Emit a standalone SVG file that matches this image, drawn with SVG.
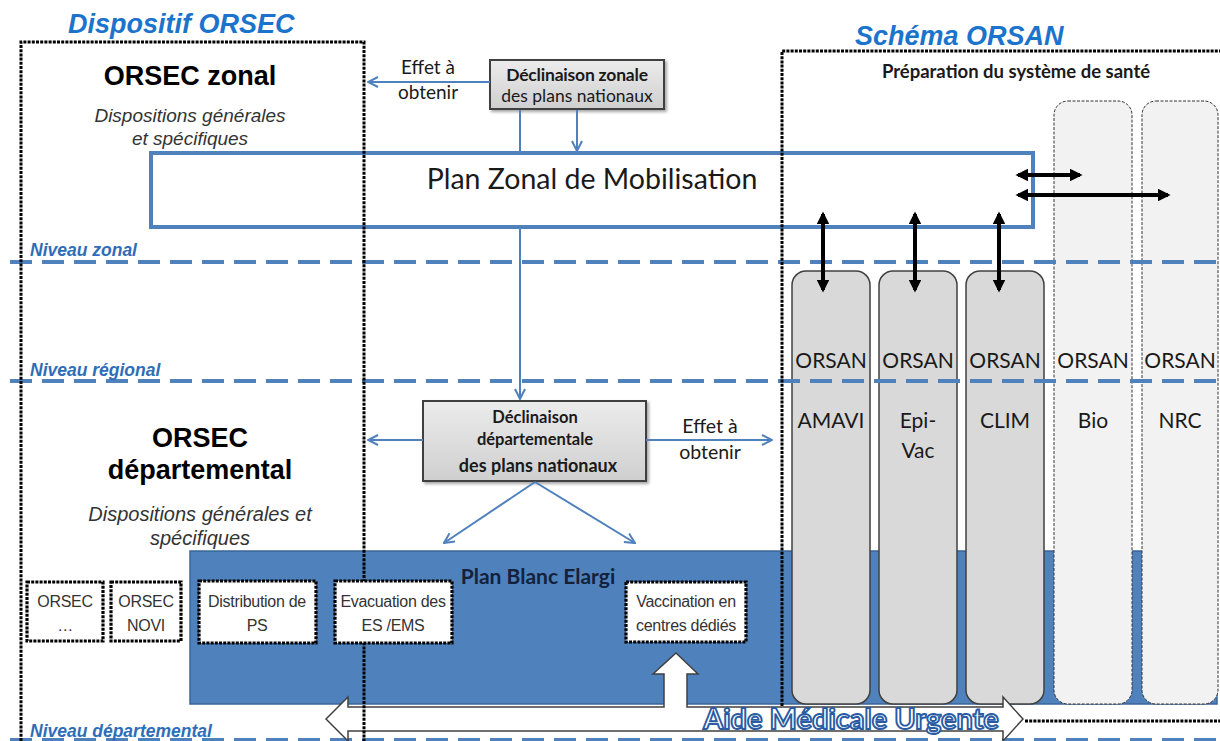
<svg xmlns="http://www.w3.org/2000/svg" width="1220" height="741" viewBox="0 0 1220 741">
<defs>
<style>
.title{font-family:"Liberation Sans",Arial,sans-serif;font-weight:bold;font-style:italic;font-size:27px;fill:#1c73cc}
.lvl{font-family:"Liberation Sans",Arial,sans-serif;font-weight:bold;font-style:italic;font-size:17.5px;fill:#2f6db8}
.h1{font-family:"Liberation Sans",Arial,sans-serif;font-weight:bold;font-size:27px;fill:#000}
.disp{font-family:"Liberation Sans",Arial,sans-serif;font-style:italic;font-size:19px;fill:#333}
.cal{font-family:Lato,"Open Sans",sans-serif;fill:#1a1a1a}
.box{font-family:Lato,"Open Sans",sans-serif;font-weight:bold;font-size:16.5px;fill:#1a1a1a}
.small{font-family:"Liberation Sans",Arial,sans-serif;font-size:16px;fill:#333;letter-spacing:-0.3px}
.dot{fill:#fff;stroke:#000;stroke-width:3.2;stroke-dasharray:3 1.2}
.bigdot{fill:none;stroke:#000;stroke-width:3;stroke-dasharray:3 1.2}
.dash{stroke:#4f81bd;stroke-width:4;stroke-dasharray:22 10;fill:none}
.conn{stroke:#4f81bd;stroke-width:2;fill:none}
.blk{stroke:#000;stroke-width:4;fill:none;marker-start:url(#bh);marker-end:url(#bh)}
.col{fill:#d9d9d9;stroke:#404040;stroke-width:1.5}
.lcol{fill:#f2f2f2;stroke:#333;stroke-width:1;stroke-dasharray:3 1.5}
.decl{fill:url(#g);stroke:#404040;stroke-width:2;filter:url(#sh)}
</style>
<marker id="oa" viewBox="0 0 12 12" refX="11" refY="6" markerWidth="12" markerHeight="12" markerUnits="userSpaceOnUse" orient="auto">
<path d="M1,1 L11,6 L1,11" fill="none" stroke="#4f81bd" stroke-width="2"/>
</marker>
<marker id="bh" viewBox="0 0 10 10" refX="8" refY="5" markerWidth="3.2" markerHeight="3.2" orient="auto-start-reverse">
<path d="M0,0 L10,5 L0,10 z" fill="#000"/>
</marker>
<linearGradient id="g" x1="0" y1="0" x2="0" y2="1">
<stop offset="0" stop-color="#ececec"/>
<stop offset="1" stop-color="#cfcfcf"/>
</linearGradient>
<filter id="sh" x="-10%" y="-10%" width="130%" height="140%">
<feDropShadow dx="2" dy="2" stdDeviation="1.5" flood-color="#000" flood-opacity="0.35"/>
</filter>
</defs>
<rect width="1220" height="741" fill="#fff"/>

<text class="title" x="68" y="33">Dispositif ORSEC</text>
<text class="title" x="855" y="45">Schéma ORSAN</text>

<g id="plan-blanc">
<rect x="190" y="551" width="1027" height="153" fill="#4f81bd" stroke="#3b6597" stroke-width="1.5"/>
<text class="cal" x="538" y="584" text-anchor="middle" style="font-size:21px;font-weight:bold;fill:#14213d">Plan Blanc Elargi</text>
</g>

<g id="orsan-amavi">
<rect class="col" x="792" y="271" width="78" height="433" rx="14"/>
<text class="cal" x="831" y="368" font-size="21" text-anchor="middle">ORSAN</text>
<text class="cal" x="831" y="428" font-size="21" text-anchor="middle">AMAVI</text>
</g>
<g id="orsan-epivac">
<rect class="col" x="879" y="271" width="78" height="433" rx="14"/>
<text class="cal" x="918" y="368" font-size="21" text-anchor="middle">ORSAN</text>
<text class="cal" x="918" y="428" font-size="21" text-anchor="middle">Epi-</text>
<text class="cal" x="918" y="458" font-size="21" text-anchor="middle">Vac</text>
</g>
<g id="orsan-clim">
<rect class="col" x="966" y="271" width="78" height="433" rx="14"/>
<text class="cal" x="1005" y="368" font-size="21" text-anchor="middle">ORSAN</text>
<text class="cal" x="1005" y="428" font-size="21" text-anchor="middle">CLIM</text>
</g>
<g id="orsan-bio">
<rect class="lcol" x="1054" y="101" width="78" height="603" rx="14"/>
<text class="cal" x="1093" y="368" font-size="21" text-anchor="middle">ORSAN</text>
<text class="cal" x="1093" y="428" font-size="21" text-anchor="middle">Bio</text>
</g>
<g id="orsan-nrc">
<rect class="lcol" x="1142" y="101" width="76" height="603" rx="14"/>
<text class="cal" x="1180" y="368" font-size="21" text-anchor="middle">ORSAN</text>
<text class="cal" x="1180" y="428" font-size="21" text-anchor="middle">NRC</text>
</g>

<g id="plan-zonal">
<rect x="151" y="153" width="882" height="74" fill="#fff" stroke="#4f81bd" stroke-width="4"/>
<text class="cal" x="592" y="189" font-size="28.5" text-anchor="middle">Plan Zonal de Mobilisation</text>
</g>

<g id="levels">
<line class="dash" x1="10" y1="262" x2="1220" y2="262"/>
<line class="dash" x1="10" y1="381" x2="1220" y2="381"/>
<line class="dash" x1="10" y1="740" x2="1220" y2="740"/>
<text class="lvl" x="30" y="256">Niveau zonal</text>
<text class="lvl" x="30" y="376">Niveau régional</text>
<text class="lvl" x="30" y="737">Niveau départemental</text>
</g>

<g id="orsec-zonal">
<text class="h1" x="190" y="85" text-anchor="middle">ORSEC zonal</text>
<text class="disp" x="190" y="122" text-anchor="middle">Dispositions générales</text>
<text class="disp" x="190" y="145" text-anchor="middle">et spécifiques</text>
</g>

<g id="orsec-dep">
<text class="h1" x="200" y="447" text-anchor="middle">ORSEC</text>
<text class="h1" x="200" y="479" text-anchor="middle">départemental</text>
<text class="disp" x="200" y="521" text-anchor="middle" style="font-size:20px">Dispositions générales et</text>
<text class="disp" x="200" y="545" text-anchor="middle" style="font-size:20px">spécifiques</text>
</g>

<g id="declinaison-zonale">
<rect class="decl" x="490" y="60" width="174" height="49"/>
<text class="box" x="577" y="81" text-anchor="middle" style="font-size:17.5px;letter-spacing:-0.2px">Déclinaison zonale</text>
<text class="box" x="577" y="102" text-anchor="middle" style="font-size:17.5px;font-weight:normal">des plans nationaux</text>
</g>

<g id="declinaison-dep">
<rect class="decl" x="423" y="401" width="223" height="80"/>
<text class="box" x="535" y="423" text-anchor="middle">Déclinaison</text>
<text class="box" x="535" y="445" text-anchor="middle">départementale</text>
<text class="box" x="538" y="472" text-anchor="middle" style="font-size:18px">des plans nationaux</text>
</g>

<g id="connectors">
<line class="conn" x1="490" y1="82" x2="368" y2="82" marker-end="url(#oa)"/>
<line class="conn" x1="520" y1="110" x2="520" y2="151"/>
<line class="conn" x1="577" y1="110" x2="577" y2="151" marker-end="url(#oa)"/>
<line class="conn" x1="520" y1="229" x2="520" y2="399" marker-end="url(#oa)"/>
<line class="conn" x1="423" y1="440" x2="368" y2="440" marker-end="url(#oa)"/>
<line class="conn" x1="646" y1="440" x2="772" y2="440" marker-end="url(#oa)"/>
<line class="conn" x1="535" y1="482" x2="444" y2="543" marker-end="url(#oa)"/>
<line class="conn" x1="535" y1="482" x2="635" y2="543" marker-end="url(#oa)"/>
<line class="blk" x1="823" y1="214" x2="823" y2="290"/>
<line class="blk" x1="915" y1="214" x2="915" y2="290"/>
<line class="blk" x1="999" y1="214" x2="999" y2="290"/>
<line class="blk" x1="1018" y1="175" x2="1080" y2="175"/>
<line class="blk" x1="1018" y1="195" x2="1168" y2="195"/>
<text class="cal" x="428" y="74" font-size="19" text-anchor="middle">Effet à</text>
<text class="cal" x="428" y="99" font-size="19" text-anchor="middle">obtenir</text>
<text class="cal" x="710" y="433" font-size="19.5" text-anchor="middle">Effet à</text>
<text class="cal" x="710" y="459" font-size="19.5" text-anchor="middle">obtenir</text>
</g>

<g id="orsan-frame">
<path class="bigdot" d="M782,706 V51 H1220"/>
<line class="bigdot" x1="1025" y1="721" x2="1220" y2="721"/>
<text class="cal" x="1016" y="78" font-size="18.5" font-weight="bold" text-anchor="middle">Préparation du système de santé</text>
</g>

<g id="amu">
<polygon points="326,719 348,697 348,707 664,707 664,674 653,674 676,653 698,674 687,674 687,707 1003,707 1003,697 1023,719 1003,741 1003,731 348,731 348,741" fill="#fff" stroke="#404040" stroke-width="1.5"/>
<text class="cal" x="851" y="729" text-anchor="middle" style="font-size:29px;font-weight:bold;fill:#ffffff;stroke:#2a5ca3;stroke-width:1.9px">Aide Médicale Urgente</text>
</g>

<g id="orsec-frame">
<path class="bigdot" d="M21,741 V42 H364 V741"/>
</g>

<g id="orsec-autres">
<rect class="dot" x="27" y="582" width="76" height="59"/>
<text class="small" x="65" y="607" text-anchor="middle">ORSEC</text>
<text class="small" x="65" y="631" text-anchor="middle">…</text>
</g>
<g id="orsec-novi">
<rect class="dot" x="111" y="582" width="70" height="59"/>
<text class="small" x="146" y="607" text-anchor="middle">ORSEC</text>
<text class="small" x="146" y="631" text-anchor="middle">NOVI</text>
</g>
<g id="distribution-ps">
<rect class="dot" x="199" y="581" width="117" height="62"/>
<text class="small" x="257" y="607" text-anchor="middle">Distribution de</text>
<text class="small" x="257" y="631" text-anchor="middle">PS</text>
</g>
<g id="evacuation">
<rect class="dot" x="335" y="581" width="117" height="62"/>
<text class="small" x="393" y="607" text-anchor="middle">Evacuation des</text>
<text class="small" x="393" y="631" text-anchor="middle">ES /EMS</text>
</g>
<g id="vaccination">
<rect class="dot" x="626" y="582" width="120" height="60"/>
<text class="small" x="686" y="607" text-anchor="middle">Vaccination en</text>
<text class="small" x="686" y="631" text-anchor="middle">centres dédiés</text>
</g>
</svg>
